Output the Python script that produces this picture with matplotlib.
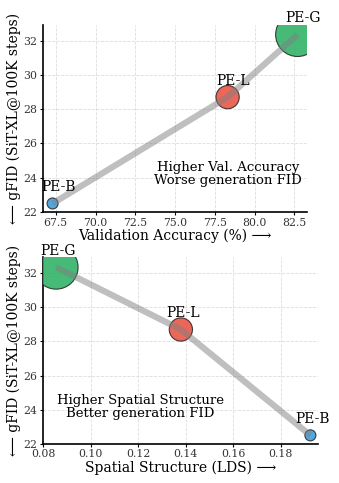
import matplotlib.pyplot as plt

names = ['PE-B', 'PE-L', 'PE-G']
val_acc = [67.3, 78.3, 82.7]
lds = [0.1925, 0.138, 0.0855]
gfid = [22.5, 28.7, 32.35]
sizes = [63, 280, 1000]
colors = ['#3498db', '#e74c3c', '#27ae60']

plt.rcParams['font.family'] = ['DejaVu Serif', 'DejaVu Sans']

fig = plt.figure(figsize=(3.39, 4.83), dpi=100)
ax1 = fig.add_axes([0.127, 0.561, 0.779, 0.387])
ax2 = fig.add_axes([0.127, 0.081, 0.811, 0.387])


def draw(ax, xs, xlabel, note, note_xy, xlim, ylim, xticks, dx):
    ax.scatter(xs, gfid, s=sizes, c=colors, alpha=0.85, edgecolors='#222222',
               linewidths=0.8, zorder=3)
    ax.plot(xs, gfid, color='gray', lw=4.5, alpha=0.5, zorder=4,
            solid_capstyle='butt')
    for x, y, n in zip(xs, gfid, names):
        ax.text(x + dx, y + 0.95, n, ha='center', va='center', fontsize=10,
                zorder=5, clip_on=False)
    ax.text(*note_xy, note, transform=ax.transAxes, ha='center', va='center',
            fontsize=9.5, linespacing=1.0)
    ax.set_xlim(*xlim)
    ax.set_ylim(*ylim)
    ax.set_xticks(xticks)
    ax.set_yticks([22, 24, 26, 28, 30, 32])
    ax.grid(True, linestyle='--', color='#dddddd', lw=0.6)
    ax.set_axisbelow(True)
    for sp in ['top', 'right']:
        ax.spines[sp].set_visible(False)
    ax.spines['left'].set_linewidth(1.2)
    ax.spines['bottom'].set_linewidth(1.2)
    ax.tick_params(labelsize=7.8, length=2, pad=2, labelcolor='#333333')
    ax.set_xlabel(xlabel + ' \u27f6', fontsize=10, labelpad=1)
    ax.set_ylabel('\u27f5 gFID (SiT-XL@100K steps)', fontsize=10, labelpad=2)


draw(ax1, val_acc, 'Validation Accuracy (%)',
     'Higher Val. Accuracy\nWorse generation FID', (0.70, 0.205),
     (66.7, 83.3), (22, 32.9), [67.5, 70.0, 72.5, 75.0, 77.5, 80.0, 82.5], 0.35)
draw(ax2, lds, 'Spatial Structure (LDS)',
     'Higher Spatial Structure\nBetter generation FID', (0.355, 0.195),
     (0.08, 0.1957), (22, 32.95), [0.08, 0.10, 0.12, 0.14, 0.16, 0.18], 0.0008)

fig.savefig('out.png', dpi=100)
